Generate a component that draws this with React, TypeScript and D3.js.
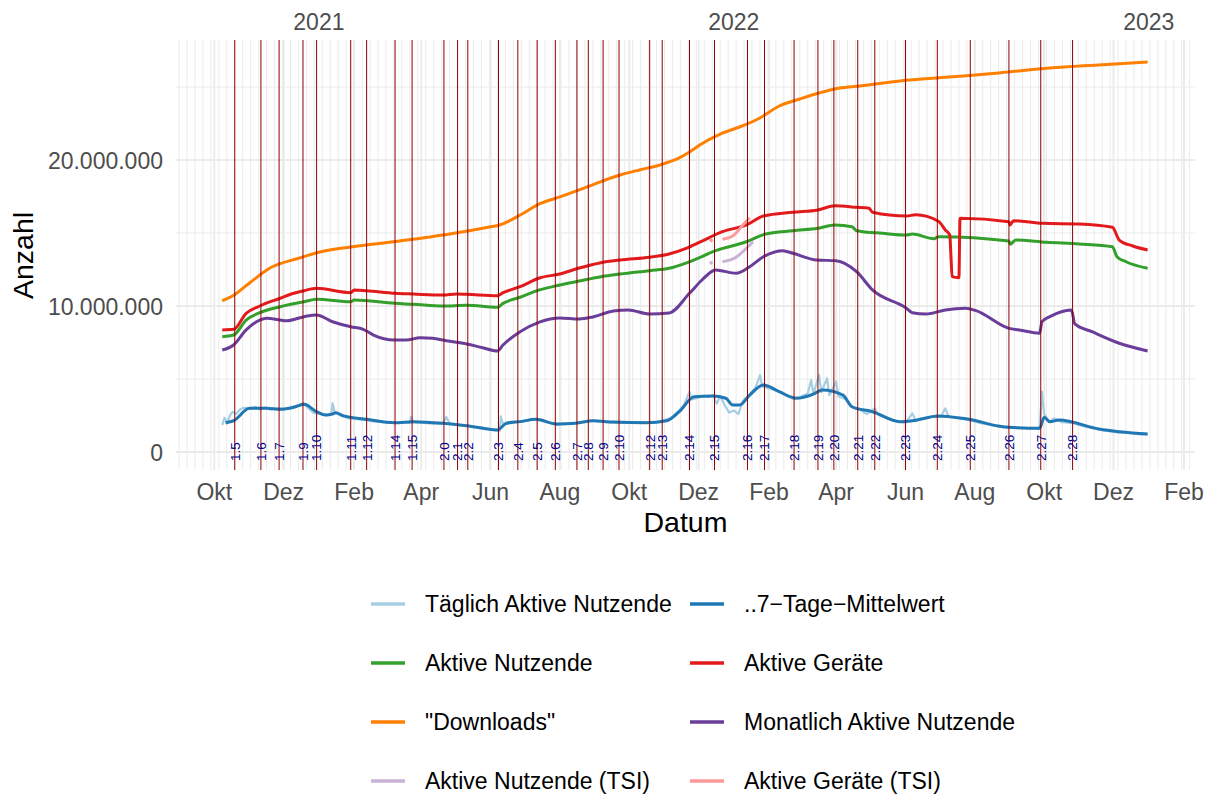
import React from 'react';
import * as d3 from 'd3';

const W = 1212, H = 794;

// release versions and their dates
const versions = ['1.5','1.6','1.7','1.9','1.10','1.11','1.12','1.14','1.15','2.0','2.1','2.2','2.3','2.4','2.5','2.6','2.7','2.8','2.9','2.10','2.12','2.13','2.14','2.15','2.16','2.17','2.18','2.19','2.20','2.21','2.22','2.23','2.24','2.25','2.26','2.27','2.28'];
const releaseDates = ['2020-10-19','2020-11-11','2020-11-27','2020-12-18','2020-12-30','2021-01-29','2021-02-12','2021-03-09','2021-03-24','2021-04-21','2021-05-03','2021-05-12','2021-06-08','2021-06-25','2021-07-12','2021-07-28','2021-08-16','2021-08-26','2021-09-08','2021-09-22','2021-10-19','2021-10-30','2021-11-23','2021-12-15','2022-01-13','2022-01-28','2022-02-23','2022-03-16','2022-03-30','2022-04-20','2022-05-05','2022-06-01','2022-06-29','2022-07-28','2022-08-31','2022-09-28','2022-10-26'];

// values in millions
const daily: [string, number][] = [
  ['2020-10-08',1.85],['2020-10-10',2.35],['2020-10-12',1.95],['2020-10-15',2.55],['2020-10-17',2.75],['2020-10-20',2.6],
  ['2020-10-24',2.95],['2020-10-28',3.05],['2020-11-02',2.95],['2020-11-06',3.1],['2020-11-10',2.9],['2020-11-14',3.05],
  ['2020-11-20',2.9],['2020-11-26',3.0],['2020-12-02',2.95],['2020-12-08',3.1],['2020-12-14',3.2],['2020-12-18',3.35],
  ['2020-12-22',3.05],['2020-12-27',2.7],['2021-01-02',2.6],['2021-01-08',2.5],['2021-01-12',2.6],['2021-01-13',3.35],
  ['2021-01-15',2.7],['2021-01-20',2.5],['2021-01-27',2.3],['2021-02-03',2.25],['2021-02-10',2.2],['2021-02-18',2.1],
  ['2021-02-26',2.05],['2021-03-06',2.0],['2021-03-14',2.05],['2021-03-22',2.0],['2021-03-23',2.4],['2021-03-25',2.05],
  ['2021-04-03',2.0],['2021-04-12',1.95],['2021-04-20',1.95],['2021-04-23',2.4],['2021-04-26',1.95],['2021-05-06',1.85],
  ['2021-05-16',1.75],['2021-05-26',1.65],['2021-06-04',1.5],['2021-06-09',1.45],['2021-06-10',2.45],['2021-06-12',1.9],
  ['2021-06-20',2.0],['2021-06-30',2.15],['2021-07-10',2.25],['2021-07-20',2.05],['2021-07-30',1.85],['2021-08-10',1.95],
  ['2021-08-20',2.05],['2021-08-30',2.15],['2021-09-10',2.05],['2021-09-20',2.0],['2021-10-01',2.0],['2021-10-12',2.05],
  ['2021-10-22',2.0],['2021-10-30',2.15],['2021-11-06',2.3],['2021-11-12',2.7],['2021-11-18',3.2],['2021-11-23',4.13],
  ['2021-11-25',3.6],['2021-11-30',3.7],['2021-12-05',3.85],['2021-12-10',3.75],['2021-12-14',3.9],['2021-12-17',3.3],
  ['2021-12-20',3.85],['2021-12-24',3.2],['2021-12-28',2.7],['2022-01-01',2.85],['2022-01-05',2.6],['2022-01-09',3.5],
  ['2022-01-15',3.95],['2022-01-20',4.4],['2022-01-24',5.27],['2022-01-26',4.5],['2022-02-01',4.35],['2022-02-08',4.2],
  ['2022-02-15',3.9],['2022-02-22',3.65],['2022-03-01',3.8],['2022-03-07',4.0],['2022-03-10',4.93],['2022-03-12',4.0],
  ['2022-03-17',5.27],['2022-03-19',4.1],['2022-03-24',5.05],['2022-03-26',3.9],['2022-04-01',4.82],['2022-04-03',3.8],
  ['2022-04-10',3.6],['2022-04-16',3.0],['2022-04-22',2.9],['2022-04-28',2.6],['2022-05-05',2.99],['2022-05-08',2.55],
  ['2022-05-16',2.3],['2022-05-25',2.1],['2022-06-01',2.0],['2022-06-07',2.65],['2022-06-10',2.15],['2022-06-18',2.3],
  ['2022-06-25',2.45],['2022-07-02',2.4],['2022-07-06',2.99],['2022-07-09',2.4],['2022-07-18',2.3],['2022-07-26',2.2],
  ['2022-08-05',2.0],['2022-08-15',1.85],['2022-08-25',1.7],['2022-09-05',1.65],['2022-09-15',1.65],['2022-09-27',1.6],
  ['2022-09-29',4.13],['2022-10-01',2.6],['2022-10-05',2.05],['2022-10-10',2.3],['2022-10-16',2.05],['2022-10-25',2.0],
  ['2022-11-05',1.75],['2022-11-15',1.6],['2022-11-25',1.45],['2022-12-05',1.35],['2022-12-15',1.3],['2022-12-24',1.2],
  ['2022-12-31',1.2],
];

const mean7: [string, number][] = [
  ['2020-10-11',2.01],['2020-10-18',2.14],['2020-11-01',2.99],['2020-11-16',2.99],['2020-11-28',2.92],['2020-12-10',3.06],
  ['2020-12-19',3.27],['2020-12-30',2.76],['2021-01-07',2.53],['2021-01-13',2.6],['2021-01-16',2.69],['2021-01-22',2.49],
  ['2021-02-12',2.24],['2021-03-09',2.01],['2021-03-25',2.08],['2021-04-20',1.97],['2021-05-11',1.8],['2021-06-07',1.51],
  ['2021-06-15',1.97],['2021-06-27',2.08],['2021-07-11',2.24],['2021-07-29',1.92],['2021-08-15',1.97],['2021-08-30',2.14],
  ['2021-09-17',2.05],['2021-10-16',2.01],['2021-11-03',2.14],['2021-11-14',2.76],['2021-11-27',3.79],['2021-12-13',3.84],
  ['2021-12-25',3.68],['2021-12-31',3.22],['2022-01-06',3.22],['2022-01-15',3.9],['2022-01-27',4.59],['2022-02-10',4.13],
  ['2022-02-25',3.68],['2022-03-12',3.97],['2022-03-20',4.25],['2022-04-07',3.9],['2022-04-15',3.1],['2022-05-03',2.76],
  ['2022-05-27',2.08],['2022-06-07',2.14],['2022-06-30',2.47],['2022-07-21',2.31],['2022-07-27',2.24],['2022-08-22',1.78],
  ['2022-08-31',1.69],['2022-09-27',1.62],['2022-10-01',2.38],['2022-10-06',2.08],['2022-10-14',2.19],['2022-11-18',1.58],
  ['2022-12-31',1.23],
];

const activeUsers: [string, number][] = [
  ['2020-10-08',7.9],['2020-10-18',8.01],['2020-10-29',9.04],['2020-11-10',9.54],['2020-11-28',9.95],['2020-12-19',10.29],
  ['2020-12-30',10.46],['2021-01-29',10.29],['2021-02-01',10.41],['2021-03-09',10.18],['2021-03-25',10.12],['2021-04-20',10.0],
  ['2021-05-11',10.05],['2021-06-07',9.91],['2021-06-12',10.18],['2021-06-27',10.6],['2021-07-14',11.1],['2021-08-01',11.44],
  ['2021-08-18',11.71],['2021-09-05',11.99],['2021-09-23',12.19],['2021-10-19',12.42],['2021-11-05',12.58],['2021-11-23',13.03],
  ['2021-12-16',13.79],['2022-01-12',14.4],['2022-01-28',14.91],['2022-02-22',15.16],['2022-03-16',15.32],['2022-03-31',15.55],
  ['2022-04-15',15.43],['2022-04-19',15.16],['2022-05-12',14.98],['2022-06-02',14.86],['2022-06-07',14.93],['2022-06-26',14.61],
  ['2022-06-30',14.75],['2022-08-31',14.45],['2022-09-01',14.23],['2022-09-06',14.52],['2022-10-03',14.36],['2022-11-01',14.25],
  ['2022-11-30',14.06],['2022-12-04',13.38],['2022-12-12',13.03],['2022-12-31',12.58],
];

const activeDevices: [string, number][] = [
  ['2020-10-08',8.36],['2020-10-18',8.4],['2020-10-29',9.5],['2020-11-10',10.0],['2020-11-28',10.53],['2020-12-10',10.87],
  ['2020-12-19',11.05],['2020-12-30',11.21],['2021-01-29',10.91],['2021-02-01',11.1],['2021-02-12',11.05],['2021-03-09',10.87],
  ['2021-03-25',10.82],['2021-04-20',10.75],['2021-05-02',10.82],['2021-05-11',10.8],['2021-06-07',10.71],['2021-06-12',10.91],
  ['2021-06-27',11.32],['2021-07-14',11.92],['2021-08-01',12.19],['2021-08-18',12.6],['2021-09-05',12.95],['2021-09-23',13.15],
  ['2021-10-19',13.34],['2021-11-05',13.56],['2021-11-20',13.95],['2021-12-04',14.45],['2021-12-22',15.09],['2022-01-12',15.55],
  ['2022-01-27',16.16],['2022-02-22',16.42],['2022-03-16',16.58],['2022-03-31',16.87],['2022-04-19',16.76],['2022-04-30',16.69],
  ['2022-05-03',16.42],['2022-06-02',16.16],['2022-06-10',16.25],['2022-06-30',15.8],['2022-07-06',15.21],['2022-07-10',14.86],
  ['2022-07-11',13.4],['2022-07-12',12.01],['2022-07-18',11.94],['2022-07-19',16.01],['2022-08-31',15.77],['2022-09-01',15.55],
  ['2022-09-04',15.84],['2022-09-30',15.66],['2022-11-01',15.62],['2022-11-30',15.39],['2022-12-06',14.52],['2022-12-18',14.11],
  ['2022-12-31',13.84],
];

const downloads: [string, number][] = [
  ['2020-10-08',10.36],['2020-10-17',10.68],['2020-11-01',11.58],['2020-11-19',12.6],['2020-12-15',13.29],['2021-01-02',13.7],
  ['2021-01-29',14.04],['2021-03-13',14.45],['2021-04-26',14.93],['2021-05-31',15.41],['2021-06-09',15.55],['2021-06-27',16.23],
  ['2021-07-14',16.99],['2021-08-01',17.47],['2021-08-18',17.95],['2021-09-05',18.49],['2021-09-23',18.97],['2021-10-10',19.32],
  ['2021-10-28',19.66],['2021-11-14',20.14],['2021-11-23',20.55],['2021-12-02',21.03],['2021-12-20',21.78],['2022-01-06',22.26],
  ['2022-01-24',22.88],['2022-02-10',23.7],['2022-02-28',24.18],['2022-03-17',24.59],['2022-04-04',24.93],['2022-04-22',25.07],
  ['2022-05-27',25.41],['2022-07-09',25.68],['2022-08-22',25.96],['2022-10-06',26.3],['2022-11-18',26.51],['2022-12-31',26.71],
];

const monthly: [string, number][] = [
  ['2020-10-08',6.99],['2020-10-18',7.33],['2020-10-29',8.36],['2020-11-10',9.04],['2020-11-16',9.16],['2020-12-04',8.99],
  ['2020-12-19',9.27],['2020-12-30',9.38],['2021-01-13',8.92],['2021-01-29',8.58],['2021-02-09',8.4],['2021-02-18',8.01],
  ['2021-03-08',7.67],['2021-03-19',7.67],['2021-03-31',7.83],['2021-04-11',7.79],['2021-04-23',7.62],['2021-05-11',7.4],
  ['2021-05-25',7.14],['2021-06-07',6.92],['2021-06-12',7.33],['2021-06-27',8.24],['2021-07-14',8.9],['2021-08-01',9.18],
  ['2021-08-18',9.11],['2021-08-30',9.25],['2021-09-17',9.66],['2021-09-30',9.73],['2021-10-19',9.45],['2021-11-05',9.52],
  ['2021-11-23',10.87],['2021-12-04',11.78],['2021-12-16',12.47],['2022-01-03',12.24],['2022-01-15',12.69],['2022-01-28',13.42],
  ['2022-02-13',13.79],['2022-02-22',13.61],['2022-03-15',13.15],['2022-04-01',13.1],['2022-04-19',12.35],['2022-05-03',11.1],
  ['2022-06-02',9.84],['2022-06-07',9.54],['2022-06-19',9.45],['2022-07-06',9.73],['2022-07-24',9.84],['2022-08-02',9.68],
  ['2022-08-31',8.47],['2022-09-09',8.36],['2022-09-27',8.13],['2022-09-29',8.92],['2022-10-06',9.27],['2022-10-25',9.73],
  ['2022-10-28',8.77],['2022-11-12',8.24],['2022-12-06',7.45],['2022-12-31',6.92],
];

const activeUsersTsi: [string, number | null][] = [
  ['2021-12-11',13.03],['2021-12-13',12.88],['2021-12-17',null],['2021-12-22',13.03],['2022-01-03',13.34],['2022-01-12',13.95],['2022-01-18',14.4],
];
const activeDevicesTsi: [string, number | null][] = [
  ['2021-12-11',14.59],['2021-12-13',14.4],['2021-12-17',null],['2021-12-22',14.57],['2021-12-31',14.79],['2022-01-09',15.55],['2022-01-15',16.05],
];

const monthNames = ['Jan','Feb','Mär','Apr','Mai','Jun','Jul','Aug','Sep','Okt','Nov','Dez'];
const yTicks = [0, 10, 20];
const yMinor = [5, 15, 25];
const years = ['2021-01-01','2022-01-01','2023-01-01'];

const series = [
  { name: 'Täglich Aktive Nutzende', color: '#A6CEE3', data: daily, width: 2.2, smooth: false },
  { name: '..7\u2212Tage\u2212Mittelwert', color: '#1F78B4', data: mean7, width: 3, smooth: true },
  { name: 'Aktive Nutzende', color: '#33A02C', data: activeUsers, width: 3, smooth: true },
  { name: 'Aktive Geräte', color: '#E31A1C', data: activeDevices, width: 3, smooth: true },
  { name: '"Downloads"', color: '#FF7F00', data: downloads, width: 3, smooth: true },
  { name: 'Monatlich Aktive Nutzende', color: '#6A3D9A', data: monthly, width: 3, smooth: true },
  { name: 'Aktive Nutzende (TSI)', color: '#CAB2D6', data: activeUsersTsi, width: 3, smooth: true },
  { name: 'Aktive Geräte (TSI)', color: '#FB9A99', data: activeDevicesTsi, width: 3, smooth: true },
];

const parse = d3.utcParse('%Y-%m-%d');
const FONT = '"Liberation Sans", Arial, Helvetica, sans-serif';

export default function App() {
  const left = 176, right = 1195, top = 40, bottom = 470;
  const x = d3.scaleUtc()
    .domain([new Date(Date.UTC(2020, 9, 1)), new Date(Date.UTC(2023, 1, 1))])
    .range([214.3, 1184]);
  const y = d3.scaleLinear().domain([0, 20]).range([452, 160]);

  const deFmt = d3.formatLocale({ decimal: ',', thousands: '.', grouping: [3], currency: ['', '€'] }).format(',');

  const majors = d3.utcMonth.range(new Date(Date.UTC(2020, 9, 1)), new Date(Date.UTC(2023, 2, 1)), 2);
  const weeks = d3.utcMonday.range(x.invert(left), x.invert(right));

  const mkLine = (smooth: boolean) => d3.line<[string, number | null]>()
    .defined(d => d[1] !== null)
    .x(d => x(parse(d[0])!))
    .y(d => y(d[1] as number))
    .curve(smooth ? d3.curveMonotoneX : d3.curveLinear);

  const legendCols = [371, 690];
  const legendRows = [604, 663, 722, 781];

  return (
    <svg width={W} height={H} style={{ position: 'absolute', left: 0, top: 0, background: '#fff' }} fontFamily={FONT}>
      {/* grid */}
      {weeks.map((d, i) => (
        <line key={'w' + i} x1={x(d)} x2={x(d)} y1={top} y2={bottom} stroke="#EBEBEB" strokeWidth={1} />
      ))}
      {yMinor.map(v => (
        <line key={'ym' + v} x1={left} x2={right} y1={y(v)} y2={y(v)} stroke="#EBEBEB" strokeWidth={1} />
      ))}
      {majors.map((d, i) => (
        <line key={'M' + i} x1={x(d)} x2={x(d)} y1={top} y2={bottom} stroke="#EBEBEB" strokeWidth={2} />
      ))}
      {yTicks.map(v => (
        <line key={'yM' + v} x1={left} x2={right} y1={y(v)} y2={y(v)} stroke="#EBEBEB" strokeWidth={2} />
      ))}

      {/* series */}
      {series.map((s, i) => (
        <path key={'s' + i} d={mkLine(s.smooth)(s.data as [string, number | null][]) || ''} fill="none"
          stroke={s.color} strokeWidth={s.width} strokeLinejoin="round" strokeLinecap="butt" />
      ))}

      {/* release lines */}
      {releaseDates.map((d, i) => (
        <line key={'r' + i} x1={x(parse(d)!)} x2={x(parse(d)!)} y1={top} y2={bottom} stroke="#8B0000" strokeWidth={1} />
      ))}
      {releaseDates.map((d, i) => (
        <text key={'rl' + i} transform={`translate(${x(parse(d)!)},461) rotate(-90)`} dy="0.36em"
          fontSize={13.5} fill="#00008B">{versions[i]}</text>
      ))}

      {/* axes */}
      {majors.map((d, i) => (
        <text key={'xt' + i} x={x(d)} y={500} textAnchor="middle" fontSize={23} fill="#4D4D4D">
          {monthNames[d.getUTCMonth()]}
        </text>
      ))}
      {years.map(s => (
        <text key={s} x={x(parse(s)!)} y={30} textAnchor="middle" fontSize={23} fill="#4D4D4D">{s.slice(0, 4)}</text>
      ))}
      {yTicks.map(v => (
        <text key={'yt' + v} x={163} y={y(v) + 9} textAnchor="end" fontSize={23} fill="#4D4D4D">
          {deFmt(v * 1e6)}
        </text>
      ))}
      <text x={(left + right) / 2} y={532} textAnchor="middle" fontSize={28.5} fill="#000">Datum</text>
      <text transform="translate(33,255.5) rotate(-90)" textAnchor="middle" fontSize={28.5} fill="#000">Anzahl</text>

      {/* legend */}
      {series.map((s, i) => {
        const cx = legendCols[i % 2];
        const cy = legendRows[Math.floor(i / 2)];
        return (
          <g key={'lg' + i}>
            <line x1={cx} x2={cx + 34} y1={cy} y2={cy} stroke={s.color} strokeWidth={3.5} />
            <text x={cx + 54} y={cy + 8} fontSize={23} fill="#000">{s.name}</text>
          </g>
        );
      })}
    </svg>
  );
}
